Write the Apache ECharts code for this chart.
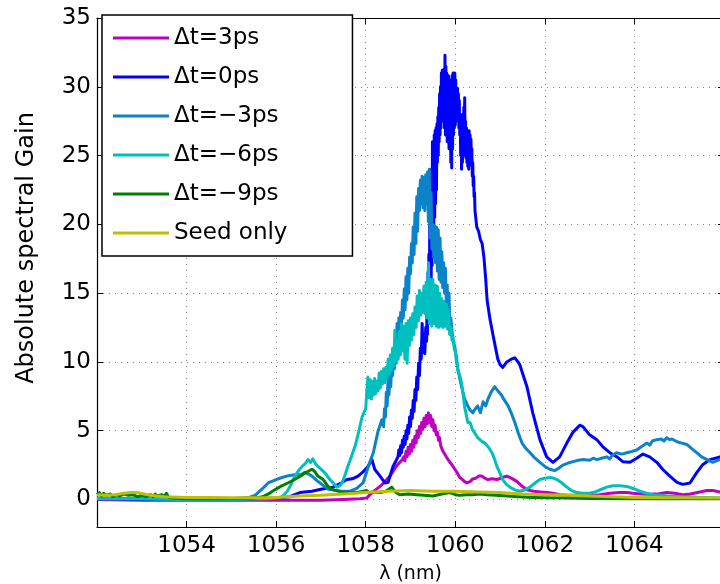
<!DOCTYPE html>
<html><head><meta charset="utf-8">
<script src="https://cdn.jsdelivr.net/npm/echarts@6/dist/echarts.min.js"></script>
<style>html,body{margin:0;padding:0;background:#fff}#c{width:720px;height:584px}</style>
</head><body><div id="c"></div>
<script>
const seriesNames = ['Δt=3ps', 'Δt=0ps', 'Δt=−3ps', 'Δt=−6ps', 'Δt=−9ps', 'Seed only'];
const seriesColors = ['#bf00bf', '#0000ff', '#0c82c8', '#00bfbf', '#008000', '#bfbf00'];
const xTicks = [1052, 1054, 1056, 1058, 1060, 1062, 1064, 1066];
const yTicks = [0, 5, 10, 15, 20, 25, 30, 35];

// Δt=3ps
const wl_p3 = [1052.0,1053.0,1054.0,1055.0,1056.0,1057.0,1057.5,1057.87,1058.02,1058.14,1058.22,1058.32,1058.4,1058.47,1058.54,1058.6,1058.68,1058.76,1058.82,
 1058.850,1058.875,1058.900,1058.925,1058.950,1058.975,1059.000,1059.025,1059.050,1059.075,1059.100,1059.125,1059.150,1059.175,1059.200,1059.225,1059.250,1059.275,1059.300,1059.325,1059.350,1059.375,1059.400,1059.425,1059.450,1059.475,1059.500,1059.525,1059.550,1059.575,1059.600,1059.625,1059.650,1059.675,1059.700,1059.725,1059.750,
 1059.8,1059.85,1059.88,1059.93,1059.99,1060.05,1060.1,1060.16,1060.21,1060.26,1060.33,1060.39,1060.46,1060.52,1060.59,1060.66,1060.73,1060.82,1060.93,1061.05,1061.15,1061.25,1061.38,1061.48,1061.6,1061.75,1061.89,1062.05,1062.18,1062.33,1062.49,1062.7,1062.85,1063.05,1063.23,1063.45,1063.67,1063.83,1063.96,1064.15,1064.34,1064.55,1064.72,1064.9,1065.08,1065.25,1065.46,1065.62,1065.75,1065.91,1066.0];
const g_p3 = [0.0,-0.05,-0.05,-0.05,-0.05,-0.05,0.0,0.05,0.1,0.5,0.7,0.95,1.2,1.45,1.7,2.0,2.4,2.7,2.9,
 3.1,2.8,3.5,3.1,3.8,3.3,4.0,3.5,4.3,3.8,4.6,4.1,5.0,4.5,5.3,4.8,5.6,5.1,5.9,5.3,6.1,5.5,6.3,5.6,6.1,5.3,5.8,5.0,5.4,4.7,4.9,4.3,4.5,3.9,4.0,3.5,3.6,
 3.1,2.85,2.75,2.5,2.2,1.9,1.6,1.45,1.3,1.2,1.3,1.5,1.55,1.7,1.7,1.55,1.45,1.5,1.45,1.6,1.7,1.55,1.3,1.0,0.7,0.6,0.55,0.5,0.45,0.35,0.3,0.3,0.25,0.3,0.35,0.45,0.5,0.5,0.45,0.4,0.38,0.42,0.5,0.45,0.35,0.4,0.55,0.65,0.65,0.55,0.5];

// Δt=0ps
const wl_0 = [1052.0,1052.5,1053.0,1053.5,1054.0,1054.5,1055.0,1055.5,1056.0,1056.3,1056.53,1056.8,1057.0,1057.27,1057.45,1057.58,1057.7,1057.83,1057.94,1058.05,1058.14,1058.2,1058.32,1058.43,1058.5,1058.61,
 1058.72,1058.74,1058.76,1058.78,1058.80,1058.82,1058.84,1058.86,1058.88,1058.90,1058.92,1058.94,1058.96,1058.98,1059.00,1059.02,1059.04,1059.06,1059.08,1059.10,1059.12,1059.14,1059.16,1059.18,1059.20,1059.22,1059.24,1059.26,1059.28,1059.30,1059.32,1059.34,
 1059.36,1059.37,1059.38,1059.39,1059.40,1059.41,1059.42,1059.43,1059.44,1059.45,1059.46,1059.47,1059.48,1059.49,1059.50,1059.51,1059.52,1059.53,1059.54,1059.55,1059.56,1059.57,1059.58,1059.59,1059.60,1059.61,1059.62,1059.63,1059.64,1059.65,1059.66,1059.67,1059.68,1059.69,1059.70,1059.71,1059.72,1059.73,1059.74,1059.75,1059.76,1059.77,1059.78,1059.79,1059.80,1059.81,1059.82,1059.83,1059.84,1059.85,1059.86,1059.87,1059.88,1059.89,1059.90,1059.91,1059.92,1059.93,1059.94,1059.95,1059.96,1059.97,1059.98,1059.99,1060.00,1060.01,1060.02,1060.03,1060.04,1060.05,1060.06,1060.07,1060.08,1060.09,1060.10,1060.11,1060.12,1060.13,1060.14,1060.15,1060.16,1060.17,1060.18,1060.19,1060.20,1060.21,1060.22,1060.23,1060.24,1060.25,1060.26,1060.27,1060.28,1060.29,1060.30,1060.31,1060.32,1060.33,1060.34,1060.35,1060.36,1060.37,1060.38,1060.39,1060.40,1060.41,1060.42,1060.43,1060.44,
 1060.48,1060.52,1060.56,1060.6,1060.64,1060.68,1060.71,1060.77,1060.84,1060.9,1060.95,1061.0,1061.06,1061.15,1061.25,1061.33,1061.4,1061.44,1061.52,1061.6,1061.73,1061.89,1062.04,1062.18,1062.33,1062.49,1062.63,1062.78,1062.85,1063.0,1063.16,1063.29,1063.45,1063.61,1063.74,1063.9,1064.05,1064.19,1064.34,1064.5,1064.63,1064.79,1064.95,1065.08,1065.24,1065.39,1065.53,1065.69,1065.91,1066.0];
const g_0 = [0.05,0.05,0.0,0.0,0.0,0.0,0.0,0.05,0.1,0.2,0.5,0.6,0.75,0.9,1.2,1.45,1.5,1.7,2.0,2.4,2.9,2.2,1.7,1.2,1.25,2.4,
 3.1,3.6,3.2,3.9,3.4,4.3,3.8,4.6,4.0,5.0,4.4,5.4,4.8,6.0,5.3,6.5,5.9,7.2,6.4,8.0,7.2,8.9,8.0,9.9,9.0,11.0,10.2,12.8,10.7,12.0,10.6,12.5,
 11.5,14.5,12.0,16.5,13.0,17.8,14.0,20.0,14.5,21.5,13.5,24.0,17.0,26.0,19.0,25.5,20.0,26.5,20.5,26.8,21.5,27.0,22.5,27.3,24.5,27.8,25.0,28.5,26.0,29.5,26.5,30.0,27.0,31.0,27.5,31.2,28.0,30.5,27.5,31.3,27.0,32.3,26.5,31.5,26.8,31.0,26.0,30.5,26.3,30.8,25.5,30.2,26.0,30.5,24.5,29.8,24.1,30.8,25.5,31.0,26.5,30.6,27.0,31.0,27.2,30.5,27.5,29.8,27.8,29.9,27.5,29.5,27.0,29.0,26.5,28.0,25.0,27.5,24.0,27.0,24.5,28.0,25.0,28.5,25.5,29.2,25.0,27.5,24.8,27.0,24.5,26.8,24.2,26.5,24.0,26.8,24.5,26.5,24.5,26.2,24.3,25.5,23.5,24.5,22.8,23.5,22.0,22.3,21.0,
 19.8,19.5,18.9,18.6,17.6,16.0,14.5,13.2,12.0,11.0,10.2,9.8,9.6,10.0,10.2,10.3,10.0,9.8,9.0,8.2,6.3,4.35,3.1,2.7,3.1,4.1,4.9,5.4,5.3,4.7,4.35,3.85,3.4,3.1,2.75,2.7,3.0,3.3,3.1,2.7,2.2,1.7,1.25,1.1,1.2,1.95,2.55,2.9,3.1,3.0];

// Δt=−3ps
const wl_m3 = [1052.0,1053.0,1054.0,1055.0,1055.4,1055.53,1055.7,1055.82,1056.0,1056.13,1056.3,1056.42,1056.55,1056.64,1056.72,1056.8,1056.9,1057.02,1057.16,1057.27,1057.45,1057.65,1057.8,1057.94,1058.02,1058.1,1058.17,1058.27,1058.36,
 1058.40,1058.42,1058.44,1058.46,1058.48,1058.50,1058.52,1058.54,1058.56,1058.58,1058.60,1058.62,1058.64,1058.66,1058.68,1058.70,1058.72,1058.74,1058.76,1058.78,1058.80,1058.82,1058.84,1058.86,1058.88,1058.90,1058.92,1058.94,1058.96,1058.98,1059.00,1059.02,1059.04,1059.06,1059.08,1059.10,1059.12,1059.14,1059.16,1059.18,1059.20,1059.22,1059.24,1059.26,1059.28,1059.30,1059.32,1059.34,1059.36,1059.38,1059.40,1059.42,1059.44,1059.46,1059.48,1059.50,1059.52,1059.54,1059.56,1059.58,1059.60,1059.62,1059.64,1059.66,1059.68,1059.70,1059.72,1059.74,1059.76,1059.78,1059.80,1059.82,1059.84,1059.86,1059.88,1059.90,
 1059.95,1059.99,1060.03,1060.06,1060.1,1060.14,1060.21,1060.28,1060.33,1060.39,1060.45,1060.5,1060.56,1060.62,1060.68,1060.73,1060.8,1060.88,1060.95,1061.03,1061.1,1061.18,1061.26,1061.33,1061.41,1061.49,1061.58,1061.67,1061.78,1061.89,1062.0,1062.11,1062.22,1062.3,1062.4,1062.52,1062.63,1062.75,1062.85,1063.0,1063.08,1063.16,1063.27,1063.38,1063.45,1063.5,1063.6,1063.72,1063.83,1063.95,1064.05,1064.16,1064.28,1064.34,1064.4,1064.5,1064.6,1064.66,1064.72,1064.78,1064.84,1064.95,1065.06,1065.17,1065.28,1065.39,1065.5,1065.62,1065.75,1065.9,1066.0];
const g_m3 = [0.1,0.05,0.0,0.05,0.15,0.3,0.8,1.2,1.45,1.6,1.75,1.8,1.8,1.95,1.85,1.7,1.4,1.1,0.75,0.7,0.6,0.6,0.8,1.2,2.0,2.8,3.4,4.9,5.8,
 5.3,6.6,6.0,7.8,6.8,9.2,7.6,9.6,8.2,10.2,9.0,10.4,9.5,11.2,9.9,12.8,10.4,13.2,11.6,13.6,12.5,14.5,13.2,15.3,13.8,16.2,14.5,16.8,15.0,17.6,16.4,18.6,17.2,19.8,17.8,20.8,18.6,22.0,19.5,22.6,21.0,23.2,21.5,23.5,21.2,23.4,21.0,23.6,21.5,23.8,20.2,24.0,19.0,22.3,18.2,20.0,17.6,19.9,17.2,19.8,16.6,19.6,16.0,19.0,15.8,18.0,15.4,17.2,15.0,16.8,14.2,15.6,12.6,15.0,12.3,13.2,
 11.5,11.1,10.0,9.4,8.8,8.2,7.3,6.8,6.5,6.3,6.6,6.8,6.3,7.1,6.8,7.3,7.8,8.2,7.9,7.6,7.2,6.8,6.2,5.6,4.8,4.1,3.7,3.4,3.0,2.7,2.4,2.2,2.1,2.25,2.5,2.65,2.75,2.85,2.9,2.85,3.0,2.9,3.0,3.1,2.95,3.2,3.4,3.3,3.4,3.5,3.6,3.85,4.1,3.95,4.25,4.35,4.4,4.25,4.5,4.35,4.4,4.2,4.1,4.0,3.7,3.4,3.1,2.9,2.7,2.9,2.9];

// Δt=−6ps
const wl_m6 = [1052.0,1053.0,1054.0,1055.0,1055.8,1056.0,1056.13,1056.25,1056.35,1056.42,1056.5,1056.58,1056.65,1056.71,1056.77,1056.82,1056.88,1056.93,1057.0,1057.1,1057.2,1057.3,1057.36,1057.42,1057.47,1057.54,1057.6,1057.68,1057.76,1057.82,1057.87,1057.92,
 1058.000,1058.025,1058.050,1058.075,1058.100,1058.125,1058.150,1058.175,1058.200,1058.225,1058.250,1058.275,1058.300,1058.325,1058.350,1058.375,1058.400,1058.425,1058.450,1058.475,1058.500,1058.525,1058.550,1058.575,1058.600,1058.625,1058.650,1058.675,1058.700,1058.725,1058.750,1058.775,1058.800,1058.825,1058.850,1058.875,1058.900,1058.925,1058.950,1058.975,1059.000,1059.025,1059.050,1059.075,1059.100,1059.125,1059.150,1059.175,1059.200,1059.225,1059.250,1059.275,1059.300,1059.325,1059.350,1059.375,1059.400,1059.425,1059.450,1059.475,1059.500,1059.525,1059.550,1059.575,1059.600,1059.625,1059.650,1059.675,1059.700,1059.725,1059.750,1059.775,1059.800,1059.825,1059.850,1059.875,1059.900,1059.925,1059.950,1059.975,
 1060.03,1060.06,1060.1,1060.14,1060.18,1060.21,1060.25,1060.28,1060.33,1060.38,1060.44,1060.5,1060.55,1060.6,1060.66,1060.74,1060.82,1060.88,1060.93,1061.0,1061.06,1061.14,1061.22,1061.33,1061.44,1061.56,1061.67,1061.78,1061.89,1062.0,1062.11,1062.2,1062.27,1062.38,1062.49,1062.6,1062.71,1062.85,1063.0,1063.12,1063.23,1063.38,1063.52,1063.67,1063.83,1063.97,1064.12,1064.27,1064.41,1064.56,1064.72,1065.08,1065.46,1066.0];
const g_m6 = [0.05,0.05,0.0,0.0,0.05,0.1,0.2,0.6,1.2,1.7,2.1,2.4,2.6,2.9,2.7,2.95,2.6,2.4,2.2,1.9,1.45,1.1,0.9,1.0,1.2,1.8,2.4,3.1,3.85,4.6,5.3,6.0,
 6.6,7.9,8.9,7.4,8.7,7.3,8.6,7.6,8.8,7.7,8.6,7.9,9.2,8.1,9.3,8.4,9.5,8.5,9.6,8.8,10.2,9.1,10.5,9.4,11.0,9.7,12.3,10.0,11.5,10.2,12.2,10.5,12.8,10.8,12.6,10.2,12.8,9.9,13.0,11.2,13.2,11.6,13.5,12.0,14.0,12.5,14.8,13.0,15.2,13.4,15.0,13.6,15.5,13.5,15.8,13.2,17.2,12.8,16.0,12.6,16.0,12.8,15.6,12.6,15.5,12.5,15.0,12.6,14.6,12.5,14.4,12.6,14.2,12.4,13.8,12.0,12.5,11.6,11.8,11.0,
 10.4,9.4,9.0,8.5,7.5,6.7,6.1,5.6,5.6,5.1,4.8,4.5,4.35,4.2,4.1,3.8,3.4,2.9,2.4,1.9,1.45,1.1,0.9,0.7,0.6,0.7,0.9,1.2,1.45,1.55,1.6,1.55,1.45,1.2,0.9,0.65,0.5,0.45,0.45,0.55,0.7,0.9,1.0,1.0,0.95,0.8,0.6,0.45,0.35,0.3,0.25,0.2,0.15,0.1];

// Δt=−9ps
const wl_m9 = [1052.0,1052.05,1052.1,1052.15,1052.2,1052.3,1052.35,1052.45,1052.5,1052.6,1052.7,1052.8,1052.9,1053.0,1053.1,1053.2,1053.25,1053.3,1053.35,1053.45,1053.5,1053.55,1053.6,1053.7,1054.0,1054.5,1055.0,1055.5,1055.7,1055.85,1055.97,1056.1,1056.26,1056.38,1056.49,1056.57,1056.64,1056.72,1056.8,1056.87,1056.93,1057.05,1057.16,1057.27,1057.45,1057.58,1057.8,1058.02,1058.08,1058.14,1058.32,1058.45,1058.58,1058.66,1058.76,1058.95,1059.14,1059.3,1059.5,1059.7,1059.88,1060.0,1060.1,1060.25,1060.39,1060.55,1060.7,1060.9,1061.15,1061.4,1061.73,1062.0,1062.5,1063.0,1064.0,1065.0,1066.0];
const g_m9 = [0.35,0.5,0.25,0.45,0.3,0.4,0.2,0.35,0.25,0.4,0.3,0.35,0.2,0.3,0.2,0.35,0.2,0.4,0.25,0.35,0.2,0.45,0.15,0.1,0.05,0.05,0.05,0.1,0.2,0.45,0.7,0.95,1.2,1.4,1.6,1.75,1.95,2.05,2.2,2.0,1.7,1.45,0.95,0.7,0.55,0.5,0.5,0.65,0.5,0.55,0.5,0.6,0.9,0.55,0.35,0.4,0.35,0.3,0.25,0.4,0.5,0.35,0.3,0.35,0.35,0.4,0.35,0.3,0.25,0.2,0.15,0.12,0.1,0.08,0.05,0.05,0.05];

// Seed only
const wl_seed = [1052.0,1052.2,1052.4,1052.6,1052.75,1052.9,1053.05,1053.2,1053.5,1054.0,1054.5,1055.0,1055.5,1056.0,1056.5,1057.0,1057.5,1058.0,1058.5,1059.0,1059.5,1060.0,1060.5,1061.0,1061.5,1062.0,1062.5,1063.0,1063.5,1064.0,1065.0,1066.0];
const g_seed = [0.35,0.3,0.35,0.45,0.5,0.5,0.4,0.3,0.2,0.15,0.15,0.12,0.12,0.15,0.25,0.3,0.4,0.5,0.6,0.65,0.6,0.6,0.55,0.5,0.4,0.35,0.3,0.25,0.2,0.15,0.12,0.1];

const wls = [wl_p3, wl_0, wl_m3, wl_m6, wl_m9, wl_seed];
const gains = [g_p3, g_0, g_m3, g_m6, g_m9, g_seed];

const FONT = 'DejaVu Sans';
const chart = echarts.init(document.getElementById('c'), null, {renderer: 'canvas'});

const series = seriesNames.map((name, i) => ({
  name: name,
  type: 'line',
  xAxisIndex: 0,
  yAxisIndex: 0,
  data: wls[i].map((x, k) => [x, gains[i][k]]),
  showSymbol: false,
  symbol: 'none',
  smooth: false,
  lineStyle: {color: seriesColors[i], width: 3, join: 'round'},
  itemStyle: {color: seriesColors[i]},
  emphasis: {disabled: true},
  z: 2 + i
}));

const gridLine = {show: true, lineStyle: {color: '#8a8a8a', width: 1, type: [1, 5]}};

chart.setOption({
  animation: false,
  backgroundColor: '#ffffff',
  grid: {left: 97, top: 18, right: -4, bottom: 57, containLabel: false, outerBoundsMode: 'none'},
  legend: {
    data: seriesNames,
    orient: 'vertical',
    left: 102,
    top: 15,
    padding: [10, 65, 10, 11],
    itemWidth: 56,
    itemHeight: 3,
    itemGap: 13,
    itemTextGap: 7,
    icon: 'rect',
    backgroundColor: '#ffffff',
    borderColor: '#000000',
    borderWidth: 1.5,
    borderRadius: 0,
    textStyle: {fontFamily: FONT, fontSize: 23, color: '#000', lineHeight: 26},
    selectedMode: false,
    z: 20
  },
  xAxis: [{
    type: 'value',
    min: xTicks[0],
    max: xTicks[xTicks.length - 1],
    interval: 2,
    position: 'bottom',
    name: 'λ (nm)',
    nameLocation: 'middle',
    nameGap: 38,
    nameTextStyle: {fontFamily: FONT, fontSize: 19, color: '#000'},
    axisLine: {show: true, onZero: false, lineStyle: {color: '#000', width: 1.2}},
    axisTick: {show: true, inside: true, length: 6, lineStyle: {color: '#000'}},
    axisLabel: {
      fontFamily: FONT, fontSize: 23, color: '#000', margin: 8,
      formatter: v => (v > xTicks[0] && v < xTicks[xTicks.length - 1]) ? String(v) : ''
    },
    splitLine: gridLine
  }, {
    type: 'value',
    min: xTicks[0],
    max: xTicks[xTicks.length - 1],
    interval: 2,
    position: 'top',
    axisLine: {show: true, onZero: false, lineStyle: {color: '#000', width: 1.2}},
    axisTick: {show: true, inside: true, length: 6, lineStyle: {color: '#000'}},
    axisLabel: {show: false},
    splitLine: {show: false}
  }],
  yAxis: [{
    type: 'value',
    min: -2,
    max: yTicks[yTicks.length - 1],
    splitNumber: 7,
    position: 'left',
    axisLine: {show: true, onZero: false, lineStyle: {color: '#000', width: 1.2}},
    axisTick: {show: true, inside: true, length: 6, lineStyle: {color: '#000'}},
    axisLabel: {
      fontFamily: FONT, fontSize: 23, color: '#000', margin: 6,
      formatter: v => yTicks.indexOf(v) >= 0 ? String(v) : ''
    },
    splitLine: gridLine
  }, {
    type: 'value',
    min: -2,
    max: yTicks[yTicks.length - 1],
    splitNumber: 7,
    position: 'right',
    axisLine: {show: true, onZero: false, lineStyle: {color: '#000', width: 1.2}},
    axisTick: {show: true, inside: true, length: 6, lineStyle: {color: '#000'}},
    axisLabel: {show: false},
    splitLine: {show: false}
  }],
  graphic: [{
    type: 'text',
    x: 27,
    y: 248,
    rotation: Math.PI / 2,
    style: {text: 'Absolute spectral Gain', font: '24px "DejaVu Sans"', fill: '#000', align: 'center', verticalAlign: 'middle'}
  }],
  series: series
});
</script>
</body></html>
